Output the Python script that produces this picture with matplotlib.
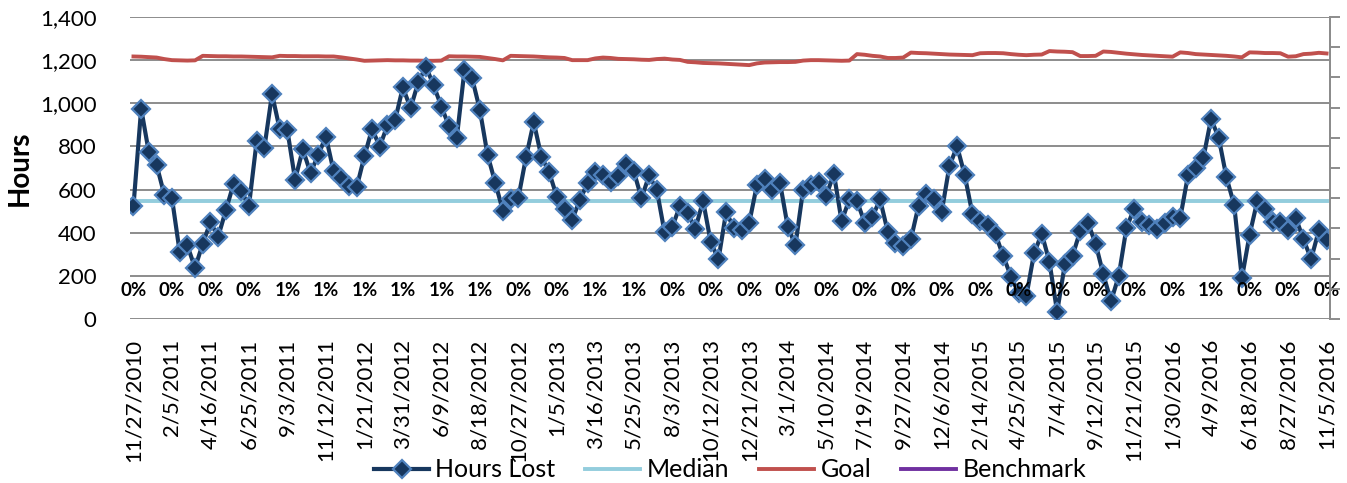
import matplotlib
matplotlib.use('Agg')
import matplotlib.pyplot as plt

# hours lost, every two weeks from 11/27/2010 to 11/5/2016
hours_lost = [523, 975, 772, 715, 577, 561, 311, 341, 237, 349,
              449, 381, 504, 626, 595, 523, 823, 792, 1043, 880,
              874, 646, 787, 677, 760, 846, 685, 655, 615, 611,
              754, 881, 799, 899, 923, 1074, 977, 1098, 1169, 1083,
              985, 894, 838, 1153, 1116, 970, 761, 632, 501, 557,
              561, 750, 913, 752, 681, 567, 509, 461, 552, 630,
              683, 668, 634, 664, 720, 685, 560, 666, 597, 401,
              427, 524, 490, 418, 548, 356, 276, 497, 420, 411,
              446, 622, 650, 597, 631, 428, 342, 600, 621, 633,
              572, 673, 453, 554, 546, 447, 474, 554, 404, 353,
              339, 370, 526, 579, 554, 496, 708, 801, 666, 486,
              455, 438, 392, 292, 197, 120, 106, 304, 396, 265,
              33, 253, 293, 408, 446, 349, 207, 82, 199, 421,
              512, 451, 434, 415, 447, 473, 470, 666, 698, 747,
              928, 839, 656, 529, 189, 390, 546, 509, 449, 451,
              411, 470, 369, 278, 411, 367]

goal = [1217, 1216, 1214, 1212, 1205, 1200, 1199, 1198, 1199, 1220,
        1219, 1218, 1218, 1217, 1217, 1216, 1215, 1214, 1213, 1220,
        1219, 1219, 1218, 1218, 1218, 1217, 1217, 1213, 1208, 1203,
        1197, 1198, 1199, 1200, 1199, 1199, 1198, 1198, 1197, 1197,
        1198, 1218, 1217, 1217, 1216, 1215, 1210, 1205, 1199, 1220,
        1219, 1218, 1217, 1215, 1213, 1212, 1210, 1200, 1200, 1200,
        1208, 1212, 1210, 1206, 1205, 1204, 1202, 1201, 1205, 1207,
        1203, 1201, 1192, 1190, 1187, 1186, 1185, 1183, 1181, 1179,
        1177, 1185, 1189, 1190, 1191, 1191, 1192, 1198, 1200, 1200,
        1199, 1198, 1197, 1198, 1228, 1225, 1220, 1217, 1210, 1210,
        1212, 1235, 1233, 1232, 1230, 1228, 1226, 1225, 1224, 1223,
        1232, 1233, 1233, 1232, 1228, 1225, 1223, 1225, 1226, 1242,
        1240, 1239, 1237, 1219, 1219, 1220, 1240, 1238, 1234, 1230,
        1227, 1224, 1222, 1220, 1218, 1216, 1236, 1233, 1228, 1226,
        1224, 1222, 1220, 1217, 1213, 1236, 1235, 1233, 1233, 1232,
        1216, 1218, 1228, 1230, 1234, 1231]

median = 549

tick_labels = ['11/27/2010', '2/5/2011', '4/16/2011', '6/25/2011', '9/3/2011',
               '11/12/2011', '1/21/2012', '3/31/2012', '6/9/2012', '8/18/2012',
               '10/27/2012', '1/5/2013', '3/16/2013', '5/25/2013', '8/3/2013',
               '10/12/2013', '12/21/2013', '3/1/2014', '5/10/2014', '7/19/2014',
               '9/27/2014', '12/6/2014', '2/14/2015', '4/25/2015', '7/4/2015',
               '9/12/2015', '11/21/2015', '1/30/2016', '4/9/2016', '6/18/2016',
               '8/27/2016', '11/5/2016']

# benchmark labels shown at each tick
benchmark_pct = [0, 0, 0, 0, 1, 1, 1, 1, 1, 1,
                 0, 0, 1, 1, 0, 0, 0, 0, 0, 0,
                 0, 0, 0, 0, 0, 0, 0, 0, 1, 0,
                 0, 0]

plt.rcParams['font.family'] = ['Lato', 'DejaVu Sans']

x = list(range(len(hours_lost)))
tick_pos = list(range(0, len(hours_lost), 5))

fig = plt.figure(figsize=(13.47, 4.83), dpi=100)
ax = fig.add_axes([130/1347, 164/483, 1200/1347, 302/483])

ax.plot(x, hours_lost, color='#17375E', lw=3, marker='D', markersize=9.5,
        markerfacecolor='#17375E', markeredgecolor='#4F81BD', markeredgewidth=1.6,
        label='Hours Lost', zorder=5)
ax.plot(x, [median] * len(x), color='#93CDDD', lw=2.8, label='Median', zorder=3)
ax.plot(x, goal, color='#C0504D', lw=2.8, label='Goal', zorder=3)
ax.plot([], [], color='#7030A0', lw=2.8, label='Benchmark')

for pos, p in zip(tick_pos, benchmark_pct):
    ax.text(pos, 134, f'{p}%', ha='center', va='center', fontsize=13.5,
            fontweight='bold', zorder=6)

ax.set_xlim(-0.45, len(x) - 0.55)
ax.set_ylim(0, 1400)
ax.set_yticks(range(0, 1401, 200))
ax.set_yticklabels([f'{v:,}' for v in range(0, 1401, 200)], fontsize=16)
ax.set_xticks(tick_pos)
ax.set_xticklabels(tick_labels, rotation=90, fontsize=16)
ax.tick_params(axis='x', length=0, pad=14)
ax.tick_params(axis='y', length=0, pad=24)
ax.grid(axis='y', color='#8C8C8C', lw=1.4)
ax.set_axisbelow(True)
for s in ['left', 'top', 'bottom']:
    ax.spines[s].set_visible(False)
ax.spines['right'].set_color('#8C8C8C')
ax.spines['right'].set_linewidth(1.4)
ax.set_ylabel('Hours', fontsize=20, fontweight='bold')
ax.yaxis.set_label_coords(-0.081, 0.5)

# secondary axis (ticks only)
ax2 = ax.twinx()
ax2.set_ylim(0, 1)
ax2.set_yticks([i / 10 for i in range(11)])
ax2.set_yticklabels([])
ax2.tick_params(axis='y', length=7, width=1.4, color='#8C8C8C')
for s in ['left', 'top', 'bottom']:
    ax2.spines[s].set_visible(False)
ax2.spines['right'].set_color('#8C8C8C')
ax2.spines['right'].set_linewidth(1.4)

fig.legend(*ax.get_legend_handles_labels(), loc='center', ncol=4,
           bbox_to_anchor=(0.542, 0.027), frameon=False, fontsize=18,
           handlelength=2.2, columnspacing=1.2, handletextpad=0.25)

fig.savefig('out.png', dpi=100)
